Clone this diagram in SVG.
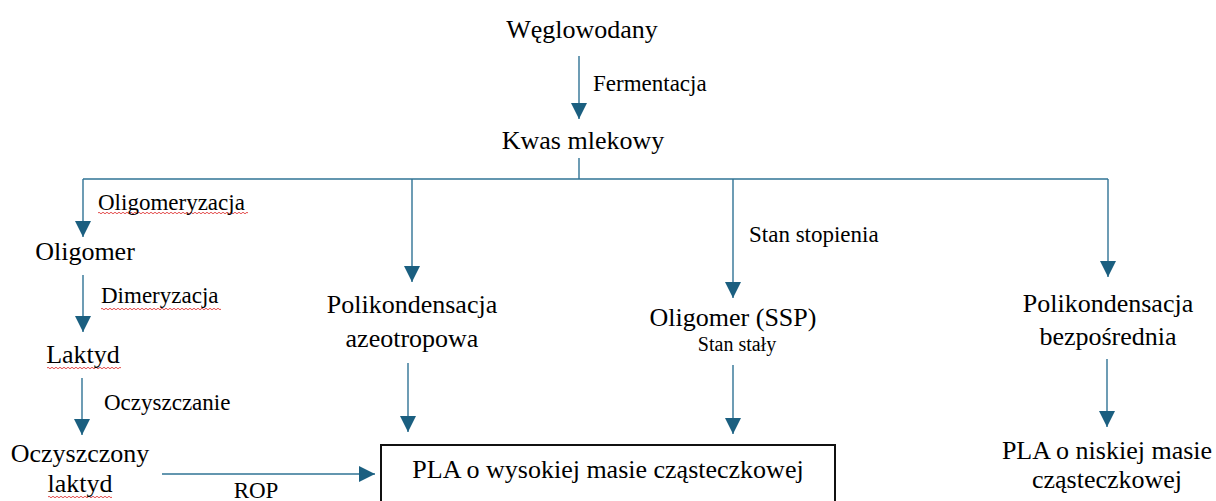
<svg xmlns="http://www.w3.org/2000/svg" width="1216" height="501" viewBox="0 0 1216 501" font-family="Liberation Serif">
<defs>
<marker id="ah" markerUnits="userSpaceOnUse" markerWidth="16" markerHeight="16" refX="15" refY="7.5" orient="auto" viewBox="0 0 15 15">
<path d="M0,0 L15,7.5 L0,15 z" fill="#1b5f80"/>
</marker>
</defs>
<g id="connectors" fill="none" stroke="#2f7395" stroke-width="1.4">
<line x1="579" y1="56" x2="579" y2="119" marker-end="url(#ah)"/>
<line x1="579" y1="158" x2="579" y2="179"/>
<line x1="83" y1="179" x2="1108" y2="179"/>
<line x1="83" y1="179" x2="83" y2="237" marker-end="url(#ah)"/>
<line x1="412" y1="179" x2="412" y2="282" marker-end="url(#ah)"/>
<line x1="733" y1="179" x2="733" y2="298" marker-end="url(#ah)"/>
<line x1="1108" y1="179" x2="1108" y2="277" marker-end="url(#ah)"/>
<line x1="83" y1="275" x2="83" y2="332" marker-end="url(#ah)"/>
<line x1="82" y1="378" x2="82" y2="435" marker-end="url(#ah)"/>
<line x1="162" y1="474" x2="375" y2="474" marker-end="url(#ah)"/>
<line x1="408" y1="363" x2="408" y2="432" marker-end="url(#ah)"/>
<line x1="733" y1="365" x2="733" y2="434" marker-end="url(#ah)"/>
<line x1="1107" y1="359" x2="1107" y2="427" marker-end="url(#ah)"/>
</g>
<g id="underlines" fill="none" stroke="#e03a3a" stroke-width="0.9">
<path d="M98,213 q1,-1.5 2,0 t2,0 2,0 2,0 2,0 2,0 2,0 2,0 2,0 2,0 2,0 2,0 2,0 2,0 2,0 2,0 2,0 2,0 2,0 2,0 2,0 2,0 2,0 2,0 2,0 2,0 2,0 2,0 2,0 2,0 2,0 2,0 2,0 2,0 2,0 2,0 2,0 2,0 2,0 2,0 2,0 2,0 2,0 2,0 2,0 2,0 2,0 2,0 2,0 2,0 2,0 2,0 2,0 2,0 2,0 2,0 2,0 2,0 2,0 2,0 2,0 2,0 2,0 2,0 2,0 2,0 2,0 2,0 2,0 2,0 2,0 2,0 2,0 2,0 2,0"/>
<path d="M101,309 q1,-1.5 2,0 t2,0 2,0 2,0 2,0 2,0 2,0 2,0 2,0 2,0 2,0 2,0 2,0 2,0 2,0 2,0 2,0 2,0 2,0 2,0 2,0 2,0 2,0 2,0 2,0 2,0 2,0 2,0 2,0 2,0 2,0 2,0 2,0 2,0 2,0 2,0 2,0 2,0 2,0 2,0 2,0 2,0 2,0 2,0 2,0 2,0 2,0 2,0 2,0 2,0 2,0 2,0 2,0 2,0 2,0 2,0 2,0 2,0 2,0 2,0"/>
<path d="M47,368 q1,-1.5 2,0 t2,0 2,0 2,0 2,0 2,0 2,0 2,0 2,0 2,0 2,0 2,0 2,0 2,0 2,0 2,0 2,0 2,0 2,0 2,0 2,0 2,0 2,0 2,0 2,0 2,0 2,0 2,0 2,0 2,0 2,0 2,0 2,0 2,0 2,0 2,0 2,0"/>
<path d="M48,497 q1,-1.5 2,0 t2,0 2,0 2,0 2,0 2,0 2,0 2,0 2,0 2,0 2,0 2,0 2,0 2,0 2,0 2,0 2,0 2,0 2,0 2,0 2,0 2,0 2,0 2,0 2,0 2,0 2,0 2,0 2,0 2,0 2,0 2,0"/>
</g>
<g id="labels" font-family="Liberation Serif" font-size="23">
<text font-family="Liberation Serif" x="593" y="91">Fermentacja</text>
<text font-family="Liberation Serif" x="98" y="210">Oligomeryzacja</text>
<text font-family="Liberation Serif" x="101" y="303">Dimeryzacja</text>
<text font-family="Liberation Serif" x="104" y="410">Oczyszczanie</text>
<text font-family="Liberation Serif" x="256" y="498" text-anchor="middle">ROP</text>
<text font-family="Liberation Serif" x="749" y="242">Stan stopienia</text>
</g>
<g id="weglowodany"><text font-family="Liberation Serif" font-size="26" text-anchor="middle" x="582" y="38">Węglowodany</text></g>
<g id="kwas"><text font-family="Liberation Serif" font-size="26" text-anchor="middle" x="583" y="149">Kwas mlekowy</text></g>
<g id="oligomer"><text font-family="Liberation Serif" font-size="26" text-anchor="middle" x="85" y="260">Oligomer</text></g>
<g id="laktyd"><text font-family="Liberation Serif" font-size="26" text-anchor="middle" x="83" y="363">Laktyd</text></g>
<g id="oczyszczony"><text font-family="Liberation Serif" font-size="26" text-anchor="middle" x="80" y="462">Oczyszczony</text><text font-family="Liberation Serif" font-size="26" text-anchor="middle" x="80" y="492">laktyd</text></g>
<g id="azeotropowa"><text font-family="Liberation Serif" font-size="26" text-anchor="middle" x="412" y="313">Polikondensacja</text><text font-family="Liberation Serif" font-size="26" text-anchor="middle" x="412" y="347">azeotropowa</text></g>
<g id="ssp"><text font-family="Liberation Serif" font-size="26" text-anchor="middle" x="733" y="326">Oligomer (SSP)</text><text font-family="Liberation Serif" font-size="20" text-anchor="middle" x="737" y="351">Stan stały</text></g>
<g id="bezposrednia"><text font-family="Liberation Serif" font-size="26" text-anchor="middle" x="1108" y="312">Polikondensacja</text><text font-family="Liberation Serif" font-size="26" text-anchor="middle" x="1108" y="345">bezpośrednia</text></g>
<g id="pla-high"><rect x="381" y="445" width="454" height="70" fill="none" stroke="#111" stroke-width="2"/>
<text font-family="Liberation Serif" font-size="26" text-anchor="middle" x="608" y="478">PLA o wysokiej masie cząsteczkowej</text></g>
<g id="pla-low"><text font-family="Liberation Serif" font-size="26" text-anchor="middle" x="1107" y="459">PLA o niskiej masie</text><text font-family="Liberation Serif" font-size="26" text-anchor="middle" x="1107" y="488">cząsteczkowej</text></g>
</svg>
